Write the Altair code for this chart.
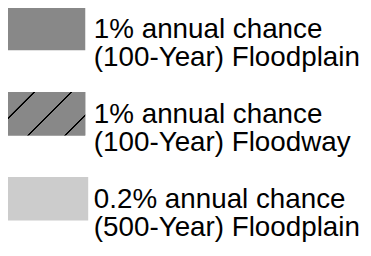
import altair as alt
import pandas as pd

# Legend content
zones = ["(100-Year) Floodplain", "(100-Year) Floodway", "(500-Year) Floodplain"]
chances = ["1% annual chance", "1% annual chance", "0.2% annual chance"]
fills = ["#888888", "#888888", "#cccccc"]

df = pd.DataFrame({"zone": zones, "chance": chances})

y_scale = alt.Scale(domain=zones, range=[-4, 214.5], paddingInner=0.4885, paddingOuter=0)
y_enc = alt.Y("zone:N", scale=y_scale, axis=None)
color_enc = alt.Color("zone:N", scale=alt.Scale(domain=zones, range=fills), legend=None)

base = alt.Chart(df)

# hatch pattern as a sharp-stop linear gradient (lines at 45 degrees)
line_t = [0.249, 0.5447, 0.8405]
stops = [{"offset": 0, "color": fills[1]}]
for t in line_t:
    stops += [
        {"offset": t - 0.011, "color": fills[1]},
        {"offset": t - 0.006, "color": "#000000"},
        {"offset": t + 0.006, "color": "#000000"},
        {"offset": t + 0.011, "color": fills[1]},
    ]
stops.append({"offset": 1, "color": fills[1]})
hatch = {"gradient": "linear", "x1": 0, "y1": 0, "x2": 1.1945, "y2": 0.6328, "stops": stops}

boxes_dark = base.transform_filter(
    alt.FieldOneOfPredicate(field="zone", oneOf=zones[:2])
).mark_rect().encode(x=alt.value(-5), x2=alt.value(79), y=y_enc, color=color_enc)

boxes_light = base.transform_filter(
    alt.FieldEqualPredicate(field="zone", equal=zones[2])
).mark_rect().encode(x=alt.value(-2), x2=alt.value(82), y=y_enc, color=color_enc)

boxes_hatch = base.transform_filter(
    alt.FieldEqualPredicate(field="zone", equal=zones[1])
).mark_rect(fill=hatch).encode(x=alt.value(-5), x2=alt.value(79), y=y_enc)

labels = base.transform_calculate(
    label="datum.chance + '\\n' + datum.zone"
).mark_text(
    align="left", baseline="alphabetic", dy=9.3, fontSize=28.4,
    font="Liberation Sans", lineHeight=28.8, lineBreak="\n", color="#000000"
).encode(x=alt.value(87.8), y=y_enc, text="label:N")

chart = alt.layer(boxes_dark, boxes_light, boxes_hatch, labels).properties(
    width=363, height=248, padding=0,
    autosize=alt.AutoSizeParams(type="none"),
).configure_view(stroke=None)

chart.save("out.html", embed_options={"renderer": "svg", "actions": False})
